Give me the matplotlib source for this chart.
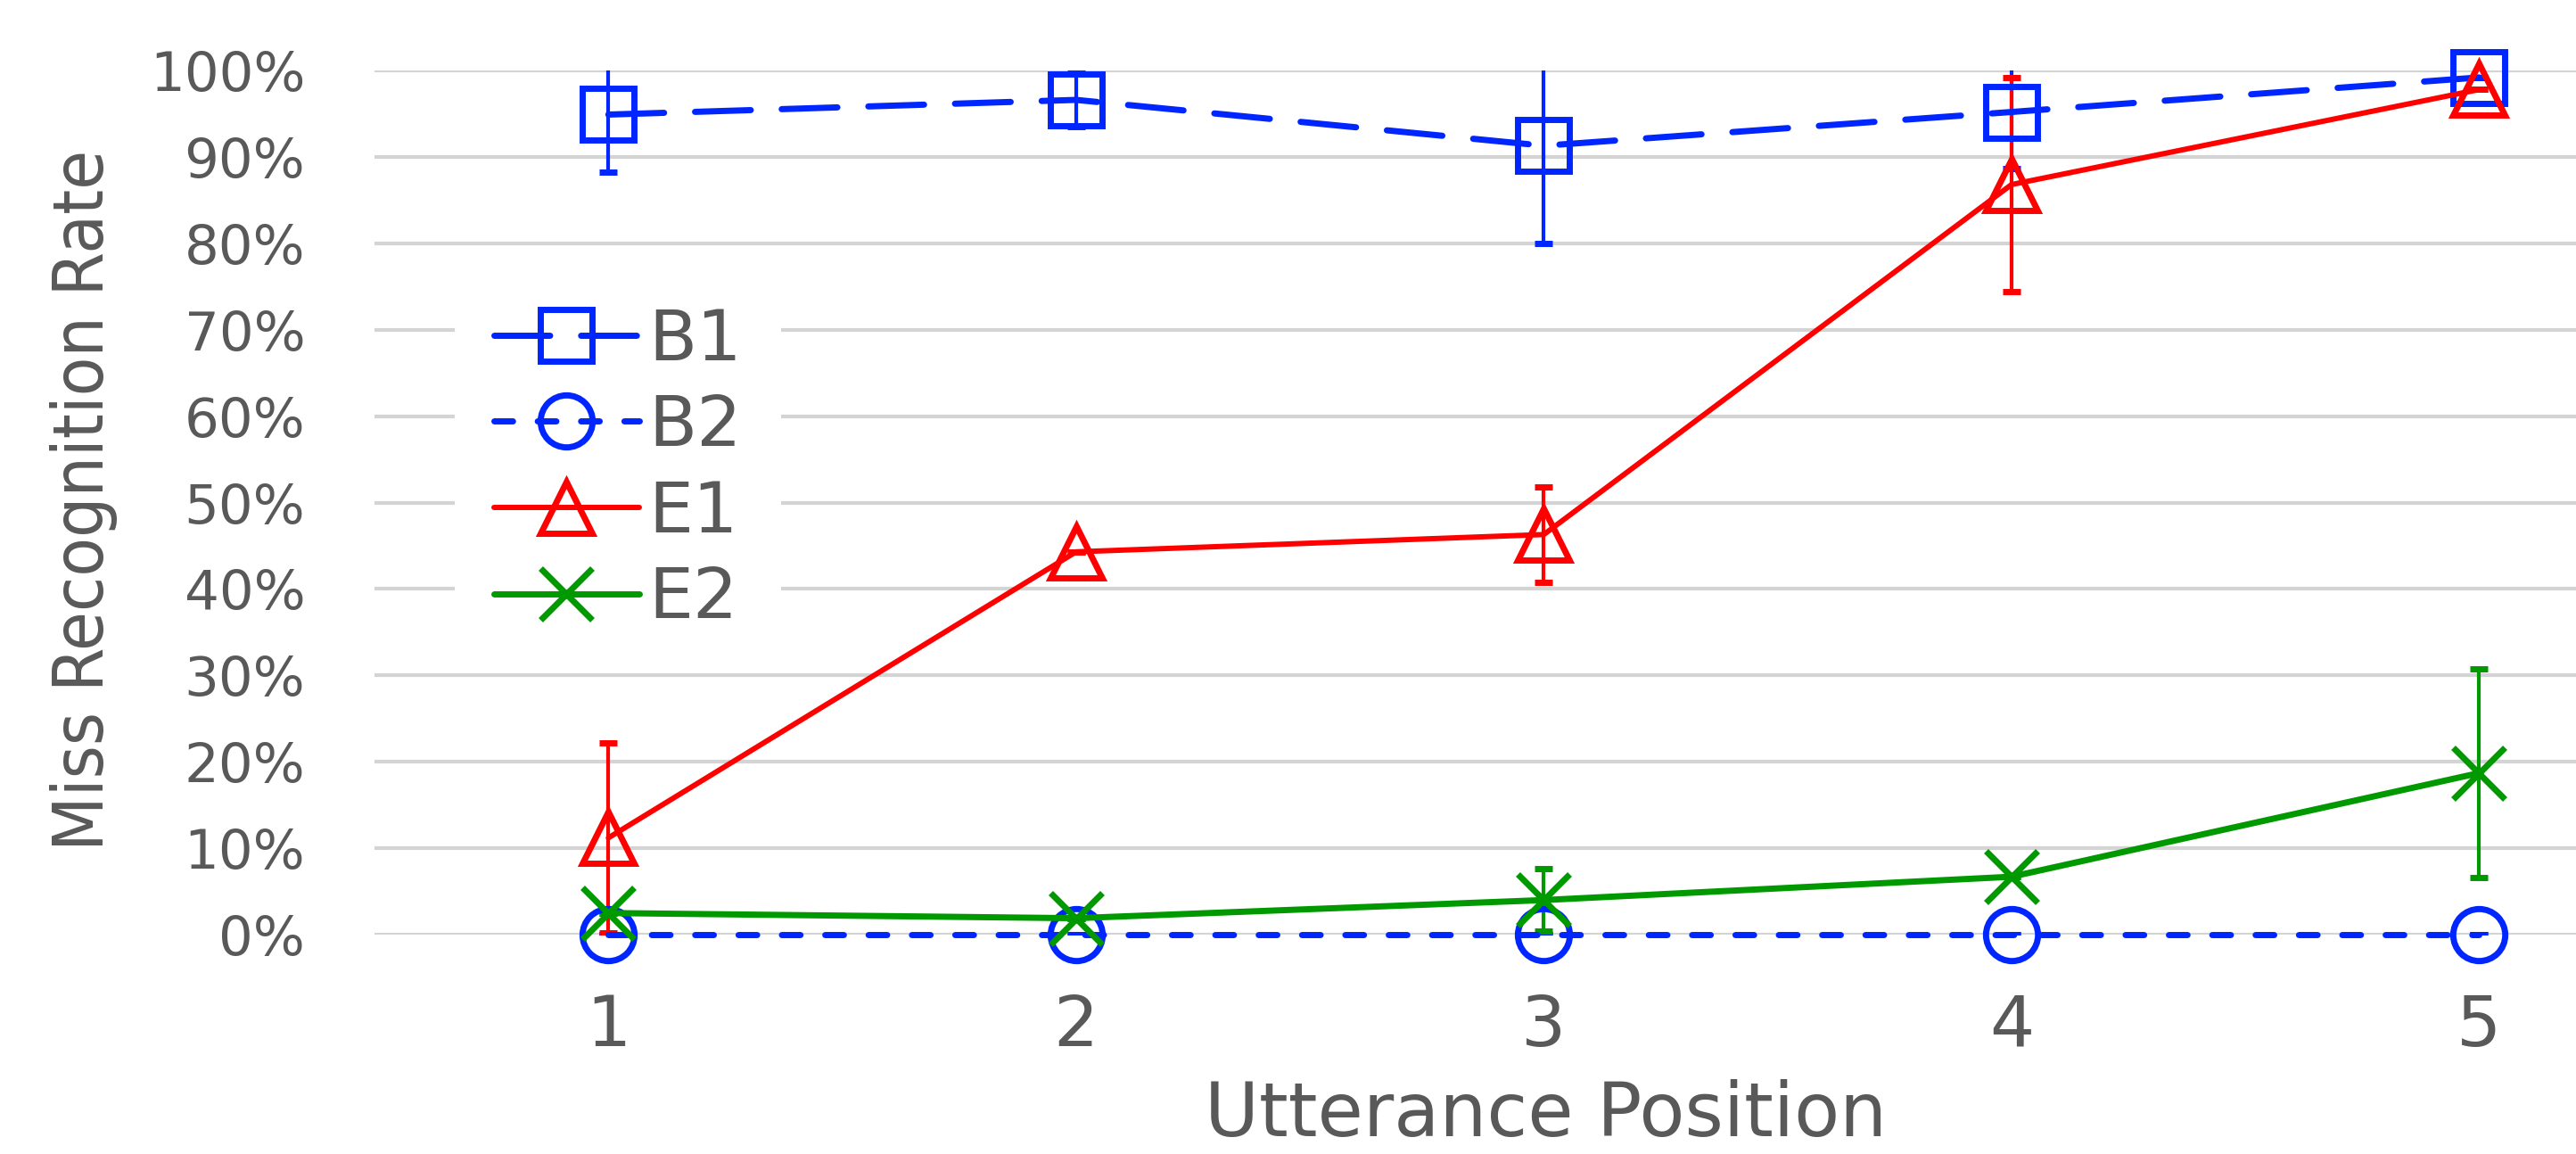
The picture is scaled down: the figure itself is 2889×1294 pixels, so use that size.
import matplotlib.pyplot as plt
from matplotlib import font_manager as fm
from matplotlib.ticker import PercentFormatter

# Data (miss recognition rate, fraction)
positions = [1, 2, 3, 4, 5]
b1 = [0.949, 0.966, 0.913, 0.952, 0.992]
b1_err = [0.067, 0.031, 0.113, 0.065, 0.0]
b2 = [0.0, 0.0, 0.0, 0.0, 0.0]
b2_err = [0.0, 0.0, 0.0, 0.0, 0.0]
e1 = [0.112, 0.443, 0.463, 0.868, 0.978]
e1_err = [0.110, 0.0, 0.055, 0.124, 0.0]
e2 = [0.025, 0.019, 0.040, 0.067, 0.187]
e2_err = [0.0, 0.0, 0.036, 0.0, 0.121]
labels = ["B1", "B2", "E1", "E2"]

BLUE = "#0026FF"
RED = "#FF0000"
GREEN = "#009900"
TEXT = "#595959"

plt.rcParams['font.family'] = ['DejaVu Sans']

# narrow font for the y label if one is installed, else Roboto
narrow = None
for f in fm.fontManager.ttflist:
    fn = f.fname.lower()
    if ('narrow' in fn or 'condensed' in fn) and 'bold' not in fn and 'italic' not in fn \
            and 'oblique' not in fn and 'semi' not in fn and 'extra' not in fn:
        if narrow is None or 'liberation' in fn:
            narrow = f.fname
if narrow:
    ylab_font = fm.FontProperties(fname=narrow)
else:
    ylab_font = fm.FontProperties(family=['Roboto', 'Liberation Sans', 'DejaVu Sans'])

fig = plt.figure(figsize=(28.89, 12.94), dpi=100)
ax = fig.add_axes([0.1454, 0.1901, 0.8546, 0.7488])

series = [
    (b1, b1_err, BLUE, 's', (0, (9.0, 5.0)), 5.0),
    (b2, b2_err, BLUE, 'o', (0, (3.0, 4.0)), 5.0),
    (e1, e1_err, RED, '^', '-', 4.3),
    (e2, e2_err, GREEN, 'x', '-', 5.0),
]

handles = []
for (vals, errs, color, marker, ls, lw), lab in zip(series, labels):
    ax.errorbar(positions, vals, yerr=errs, fmt='none', ecolor=color,
                elinewidth=3.0, capsize=7.5, capthick=5, zorder=3)
    line, = ax.plot(positions, vals, color=color, linestyle=ls, linewidth=lw,
                    marker=marker, markersize=42, markerfacecolor='none',
                    markeredgecolor=color, markeredgewidth=5,
                    dash_capstyle='round', solid_capstyle='round',
                    clip_on=False, zorder=4, label=lab)
    handles.append(line)

ax.set_xlim(0.5, 5.207)
ax.set_ylim(0, 1)
ax.set_xticks(positions)
ax.set_yticks([i / 10 for i in range(11)])
ax.yaxis.set_major_formatter(PercentFormatter(1.0, decimals=0))
ax.grid(axis='y', color='#D4D4D4', linewidth=3)
ax.set_axisbelow(True)
for sp in ax.spines.values():
    sp.set_visible(False)
ax.tick_params(axis='both', length=0, colors=TEXT)
ax.tick_params(axis='y', labelsize=44, pad=56)
ax.tick_params(axis='x', labelsize=57, pad=47)

ax.set_xlabel("Utterance Position", fontsize=60, color=TEXT, va='baseline')
ax.xaxis.set_label_coords(0.532, -0.2332)

ylab = ax.set_ylabel("Miss Recognition Rate", fontproperties=ylab_font,
                     color=TEXT, va='center')
ylab.set_fontsize(60)
ax.yaxis.set_label_coords(-0.1322, 0.5026)
# fit the label length to the reference (about 786 px)
renderer = fig.canvas.get_renderer()
h = ylab.get_window_extent(renderer).height
ylab.set_fontsize(60 * 786 / h)

leg = ax.legend(handles=handles, loc='center left',
                bbox_to_anchor=(510 / 2889, 1 - 526.5 / 1294),
                bbox_transform=fig.transFigure, fontsize=57, frameon=True,
                facecolor='white', edgecolor='none', framealpha=1,
                borderaxespad=0, borderpad=0.55, handlelength=2.07,
                handletextpad=0.13, labelspacing=0.26)
for t in leg.get_texts():
    t.set_color(TEXT)

fig.savefig("out.png", dpi=100)
